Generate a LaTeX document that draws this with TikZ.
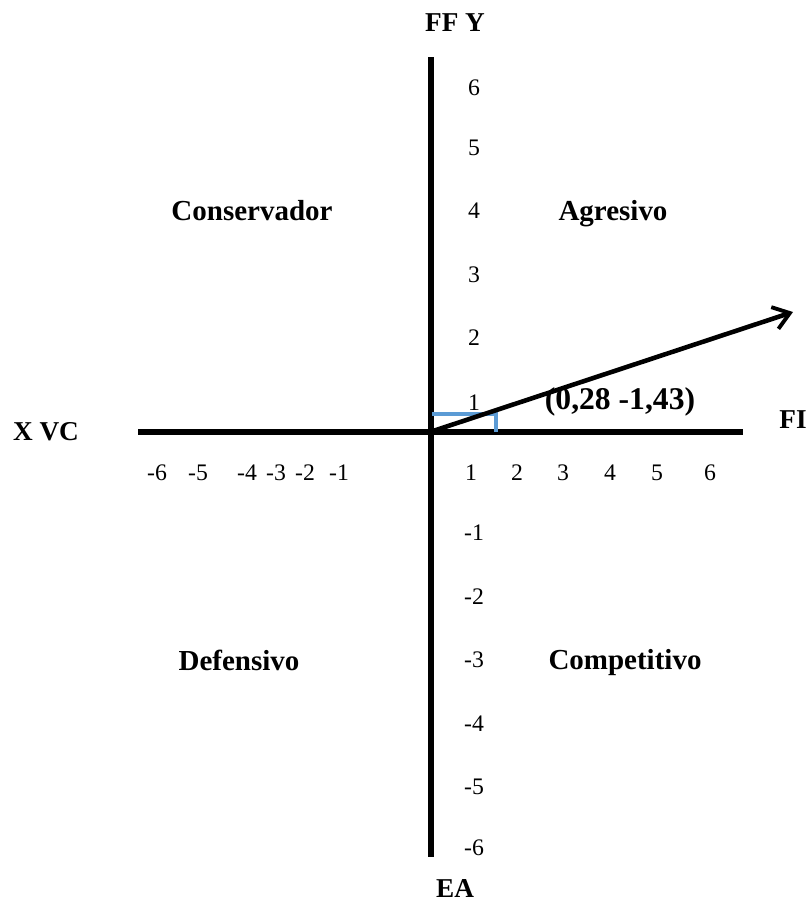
\documentclass[tikz,border=0pt]{standalone}
\usepackage{fontspec}
\setmainfont{Liberation Serif}
\usetikzlibrary{arrows.meta}
\definecolor{axisblue}{RGB}{91,155,213}

\begin{document}
\begin{tikzpicture}[
  x=0.02cm, y=-0.02cm,
  axis/.style={line width=3.6pt},
  vec/.style={line width=2.6pt, -{Straight Barb[length=9pt, width=13pt, line width=2.2pt]}},
  proj/.style={draw=axisblue, line width=2pt},
  quad/.style={font=\fontsize{16.5}{18}\selectfont\bfseries},
  axlabel/.style={font=\fontsize{15.5}{17}\selectfont\bfseries},
  ticklbl/.style={font=\fontsize{13.5}{15}\selectfont, inner sep=0pt}
]
\useasboundingbox (0,0) rectangle (811,920);

% AXES
\coordinate (O) at (430,432);
\coordinate (xleft) at (138,432);
\coordinate (xright) at (743,432);
\coordinate (ytop) at (431,57);
\coordinate (ybot) at (431,857);
\draw[axis] (xleft) -- (xright);
\draw[axis] (ytop) -- (ybot);

% AXIS NAMES
\node[axlabel] (ffy) at (455,23) {FF Y};
\node[axlabel] (ea) at (455,888) {EA};
\node[axlabel] (xvc) at (46,432) {X VC};
\node[axlabel] (fi) at (793,420) {FI};

% TICK LABELS
\foreach \lbl/\ypos in {6/88, 5/148, 4/211, 3/275, 2/338, 1/403, -1/533, -2/597, -3/660, -4/724, -5/787, -6/848}
  \node[ticklbl] at (474,\ypos) {\lbl};
\foreach \lbl/\xpos in {-6/157, -5/198, -4/247, -3/276, -2/305, -1/339, 1/471, 2/517, 3/563, 4/610, 5/657, 6/710}
  \node[ticklbl] at (\xpos,473) {\lbl};

% QUADRANTS
\node[quad] (cons) at (252,211) {Conservador};
\node[quad] (agr) at (613,214) {Agresivo};
\node[quad] (def) at (239,660) {Defensivo};
\node[quad] (comp) at (625,663) {Competitivo};

% VECTOR
\coordinate (tip) at (793,312);
\coordinate (pcorner) at (496,414);
\draw[proj] (432,414) -- (pcorner) -- (pcorner |- O);
\draw[vec] (O) -- (tip);
\node[font=\fontsize{18}{20}\selectfont\bfseries] (res) at (620,402) {(0,28 -1,43)};

\end{tikzpicture}
\end{document}
